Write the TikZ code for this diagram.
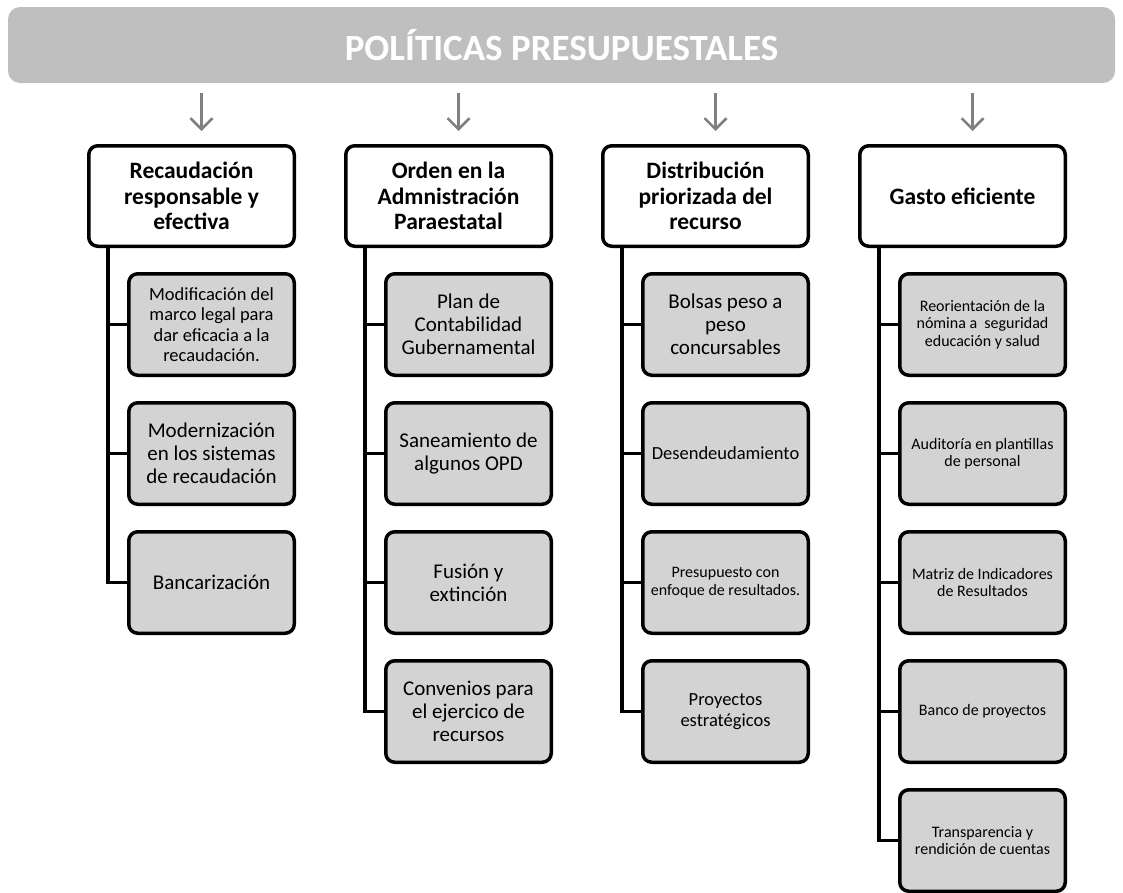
\documentclass[tikz,border=0pt]{standalone}
\usepackage{fontspec}
\setmainfont{Carlito}
\usetikzlibrary{calc}
\usetikzlibrary{arrows.meta}
\definecolor{barGray}{RGB}{191,191,191}
\definecolor{boxGray}{RGB}{211,211,211}
\definecolor{arrowGray}{RGB}{128,128,128}
\tikzset{
 titlebar/.style={fill=barGray, rounded corners=12pt, minimum width=1107pt, minimum height=76pt, text=white, font=\bfseries\fontsize{37}{40}\selectfont},
 headbox/.style={draw, line width=3.5pt, rounded corners=9pt, fill=white, minimum width=205.5pt, minimum height=100.5pt, inner sep=2pt, align=center, font=\bfseries\fontsize{23.5}{25.5}\selectfont},
 itembox/.style={draw, line width=3.5pt, rounded corners=9pt, fill=boxGray, minimum width=165.5pt, minimum height=101.5pt, inner sep=2pt, align=center},
 itemL/.style={font=\fontsize{21}{23}\selectfont},
 itemM/.style={font=\fontsize{18.5}{20.5}\selectfont},
 itemS/.style={font=\fontsize{16}{17.5}\selectfont},
 branch/.style={line width=3.5pt},
 feed/.style={draw=arrowGray, line width=2.5pt, -{Straight Barb[length=11pt,width=22pt]}}
}

\begin{document}
\begin{tikzpicture}[x=1pt, y=-1pt]
\useasboundingbox (0,0) rectangle (1123,892);
\node[titlebar] (title) at (561.5,45) {POLÍTICAS PRESUPUESTALES};
% heads of the four columns
\foreach \i/\txt in {1/{Recaudación\\responsable y\\efectiva}, 2/{Orden en la\\Admnistración\\Paraestatal}, 3/{Distribución\\priorizada del\\recurso}, 4/{Gasto eficiente}} {
 \node[headbox] (h\i) at ({191.5+257*(\i-1)},196) {\txt};
 \coordinate (t\i) at ($(h\i.south)+(-83.5,0)$);
 \draw[feed] ($(title.south -| h\i.north)+(10,10)$) -- ($(h\i.north)+(10,-13)$);
}
% column 1
\foreach \sz/\txt [count=\j] in {itemM/{Modificación del\\marco legal para\\dar eficacia a la\\recaudación.}, itemL/{Modernización\\en los sistemas\\de recaudación}, itemL/{Bancarización}} {
 \node[itembox,\sz] (a\j) at (211.5,{324.5+129*(\j-1)}) {\txt};
 \draw[branch] (t1) |- (a\j.west);
}
% column 2
\foreach \sz/\txt [count=\j] in {itemL/{Plan de\\Contabilidad\\Gubernamental}, itemL/{Saneamiento de\\algunos OPD}, itemL/{Fusión y\\extinción}, itemL/{Convenios para\\el ejercico de\\recursos}} {
 \node[itembox,\sz] (b\j) at (468.5,{324.5+129*(\j-1)}) {\txt};
 \draw[branch] (t2) |- (b\j.west);
}
% column 3
\foreach \sz/\txt [count=\j] in {itemL/{Bolsas peso a\\peso\\concursables}, itemM/{Desendeudamiento}, itemS/{Presupuesto con\\enfoque de resultados.}, itemM/{Proyectos\\estratégicos}} {
 \node[itembox,\sz] (c\j) at (725.5,{324.5+129*(\j-1)}) {\txt};
 \draw[branch] (t3) |- (c\j.west);
}
% column 4
\foreach \sz/\txt [count=\j] in {itemS/{Reorientación de la\\nómina a~ seguridad\\educación y salud}, itemS/{Auditoría en plantillas\\de personal}, itemS/{Matriz de Indicadores\\de Resultados}, itemS/{Banco de proyectos}, itemS/{Transparencia y\\rendición de cuentas}} {
 \node[itembox,\sz] (d\j) at (982.5,{324.5+129*(\j-1)}) {\txt};
 \draw[branch] (t4) |- (d\j.west);
}
\end{tikzpicture}
\end{document}
